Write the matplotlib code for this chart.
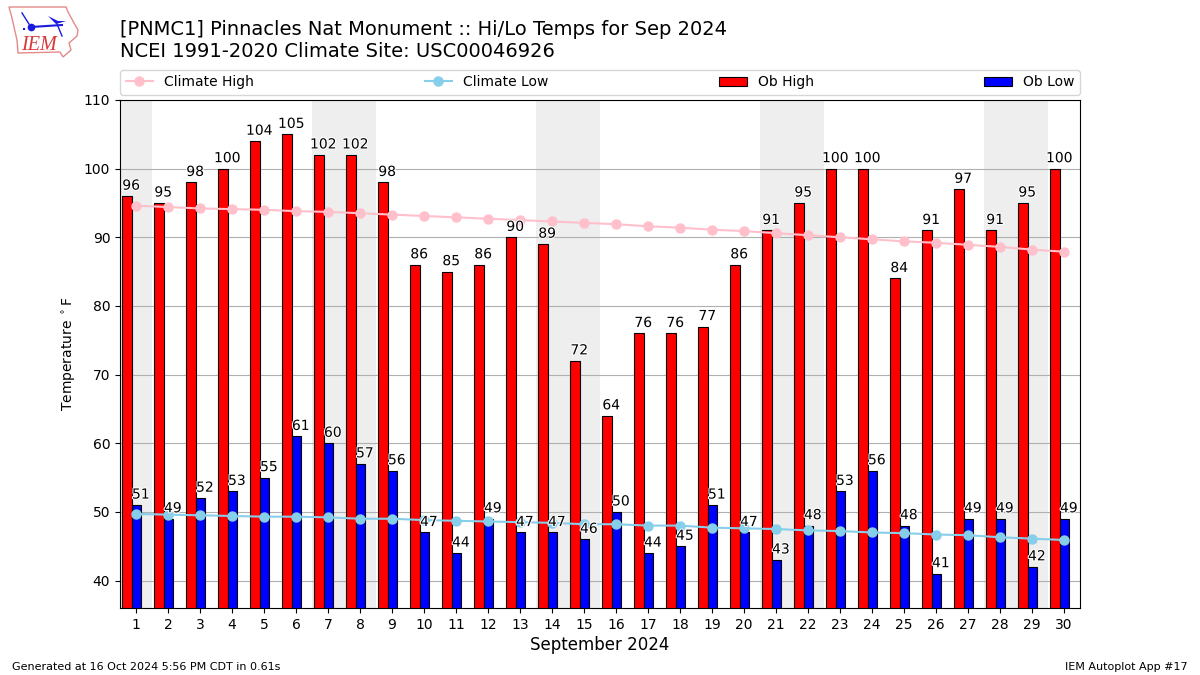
import numpy as np
import matplotlib
matplotlib.use('Agg')
import matplotlib.pyplot as plt
import matplotlib.patheffects as pe
from matplotlib.patches import Polygon


days = list(range(1, 31))
ob_high = [96, 95, 98, 100, 104, 105, 102, 102, 98, 86, 85, 86, 90, 89, 72,
           64, 76, 76, 77, 86, 91, 95, 100, 100, 84, 91, 97, 91, 95, 100]
ob_low = [51, 49, 52, 53, 55, 61, 60, 57, 56, 47, 44, 49, 47, 47, 46,
          50, 44, 45, 51, 47, 43, 48, 53, 56, 48, 41, 49, 49, 42, 49]
climate_high = [94.6, 94.4, 94.2, 94.1, 94.0, 93.8, 93.7, 93.5, 93.3, 93.1,
                92.9, 92.7, 92.5, 92.3, 92.1, 91.9, 91.6, 91.4, 91.1, 90.9,
                90.6, 90.3, 90.0, 89.7, 89.4, 89.2, 88.9, 88.6, 88.2, 87.9]
climate_low = [49.7, 49.6, 49.5, 49.4, 49.3, 49.3, 49.2, 49.0, 49.0, 48.8,
               48.7, 48.6, 48.5, 48.4, 48.2, 48.2, 48.0, 48.0, 47.7, 47.6,
               47.5, 47.3, 47.2, 47.0, 46.9, 46.7, 46.6, 46.3, 46.1, 45.9]
# sat/sun blocks of sep 2024, month starts on a sunday
weekends = [(0.5, 1.5), (6.5, 8.5), (13.5, 15.5), (20.5, 22.5), (27.5, 29.5)]

x = np.array(days)
halo = [pe.withStroke(linewidth=1.5, foreground='white')]

fig = plt.figure(figsize=(12, 6.75), dpi=100)
ax = fig.add_axes([0.1, 0.0993, 0.8, 0.7526])

for start, end in weekends:
    ax.axvspan(start, end, color='#eeeeee', lw=0, zorder=0)

ax.grid(axis='y', color='#b0b0b0', lw=0.8, zorder=1)
ax.set_axisbelow(True)

ax.bar(x - 0.28, ob_high, width=0.3, color='red', edgecolor='black', lw=0.8,
       label='Ob High', zorder=2)
ax.bar(x + 0.02, ob_low, width=0.3, color='blue', edgecolor='black', lw=0.8,
       label='Ob Low', zorder=2)
ax.plot(x, climate_high, '-o', color='pink', lw=1.5, ms=6.5, label='Climate High', zorder=3)
ax.plot(x, climate_low, '-o', color='skyblue', lw=1.5, ms=6.5, label='Climate Low', zorder=3)

# value labels
for d, hi, lo in zip(days, ob_high, ob_low):
    ax.text(d - 0.15, hi + 0.5, str(hi), ha='center', va='bottom', fontsize=10,
            color='black', path_effects=halo, zorder=4)
    ax.text(d + 0.15, lo + 0.5, str(lo), ha='center', va='bottom', fontsize=10,
            color='black', path_effects=halo, zorder=4)

ax.set_xlim(0.5, 30.5)
ax.set_ylim(36, 110)
ax.set_xticks(days)
ax.set_yticks(range(40, 111, 10))
ax.set_xlabel('September 2024', fontsize=12, labelpad=3)
ax.set_ylabel(r'Temperature $^\circ$F', fontsize=10)

handles, labels = ax.get_legend_handles_labels()
order = [labels.index(n) for n in ['Climate High', 'Climate Low', 'Ob High', 'Ob Low']]
ax.legend([handles[i] for i in order], [labels[i] for i in order], ncol=4,
          mode='expand', loc='lower left', bbox_to_anchor=(0, 1.01, 1, 0.05),
          borderaxespad=0, fontsize=10)

# titles + footer
fig.text(0.1, 0.9565, '[PNMC1] Pinnacles Nat Monument :: Hi/Lo Temps for Sep 2024',
         fontsize=14, va='center')
fig.text(0.1, 0.924, 'NCEI 1991-2020 Climate Site: USC00046926', fontsize=14, va='center')
fig.text(0.01, 0.0115, 'Generated at 16 Oct 2024 5:56 PM CDT in 0.61s', fontsize=8, va='center')
fig.text(0.99, 0.0115, 'IEM Autoplot App #17', fontsize=8, ha='right', va='center')

# logo, drawn in pixel coords
logo = fig.add_axes([0, 0, 1, 1], facecolor='none')
logo.set_xlim(0, 1200)
logo.set_ylim(675, 0)
logo.axis('off')
outline = np.array([(9, 7), (66, 7), (68, 12), (74, 23), (78, 30), (77, 36), (69, 43),
                    (71, 50), (63, 57), (60, 52), (18, 53), (17, 40), (14, 27), (12, 18)])
logo.add_patch(Polygon(outline, closed=True, fill=False, ec='#e58a8a', lw=1))
logo.plot([31, 62], [27, 25], color='#1a1ae0', lw=1.5)
logo.plot([31], [27], 'o', color='#1a1ae0', ms=4.5)
logo.plot([22, 29], [13, 24], color='#1a1ae0', lw=1)
logo.add_patch(Polygon([(48, 16), (58, 21), (66, 21), (56, 24)], closed=True, color='#1a1ae0', lw=0))
logo.plot([57, 62], [24, 36], color='#1a1ae0', lw=1)
logo.plot([23, 27], [29, 29], ':', color='#1a1ae0', lw=1.5)
logo.text(21, 45, 'IEM', family='Liberation Serif', style='italic', fontsize=14.5,
          color='#d9383a', va='center')

fig.savefig('out.png', dpi=100)
